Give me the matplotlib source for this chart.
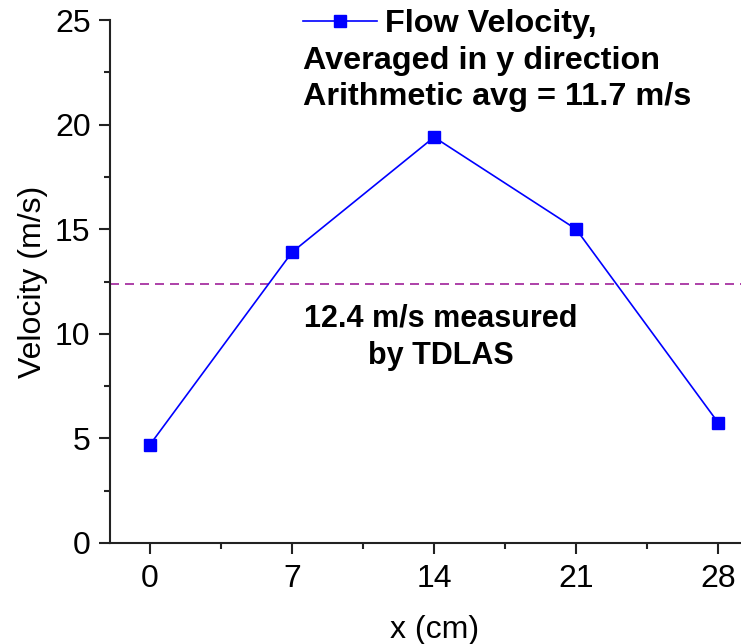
import matplotlib
matplotlib.use("Agg")
import matplotlib.pyplot as plt
from matplotlib.ticker import MultipleLocator

# values
x_cm = [0, 7, 14, 21, 28]
velocity = [4.7, 13.9, 19.4, 15.0, 5.75]
tdlas_velocity = 12.4
x_ticks = [0, 7, 14, 21, 28]
y_ticks = [0, 5, 10, 15, 20, 25]

plt.rcParams["font.family"] = ["Liberation Sans", "DejaVu Sans"]

W, H = 741, 644
fig = plt.figure(figsize=(W / 100, H / 100), dpi=100)
# the original axes runs a little past the right edge of the picture
ax = fig.add_axes([110 / W, 1 - 543 / H, 650 / W, 523 / H])

ax.plot(x_cm, velocity, color="#0000ff", linewidth=1.2, marker="s",
        markersize=8.5, label="Flow Velocity,", clip_on=False, zorder=5)
ax.axhline(tdlas_velocity, color="#a0209a", linestyle=(0, (5.4, 3.6)), linewidth=1.2)

ax.set_xlim(-1.97, 30.06)
ax.set_ylim(0, 25)
ax.set_xticks(x_ticks)
ax.set_yticks(y_ticks)
ax.xaxis.set_minor_locator(MultipleLocator(3.5))
ax.yaxis.set_minor_locator(MultipleLocator(2.5))
ax.tick_params(which="major", direction="out", length=8, width=1.5,
               labelsize=23, colors="#222222", labelcolor="black")
ax.tick_params(axis="x", which="major", pad=7)
ax.tick_params(axis="y", which="major", pad=6)
ax.tick_params(which="minor", direction="out", length=4, width=1.5, colors="#222222")
for side in ("top", "right"):
    ax.spines[side].set_visible(False)
for side in ("left", "bottom"):
    ax.spines[side].set_linewidth(1.5)
    ax.spines[side].set_color("#222222")

ax.set_xlabel("x (cm)", fontsize=23, labelpad=15)
ax.set_ylabel("Velocity (m/s)", fontsize=23, labelpad=5)

leg = ax.legend(loc="upper left", bbox_to_anchor=(303 / W, 1 - 9 / H),
                bbox_transform=fig.transFigure, frameon=False, borderaxespad=0,
                borderpad=0, handlelength=2.28, handletextpad=0.25,
                prop={"weight": "bold", "size": 23.3})

fig.text(303 / W, 1 - 69 / H, "Averaged in y direction", fontsize=23.3,
         fontweight="bold", ha="left", va="baseline")
fig.text(303 / W, 1 - 105 / H, "Arithmetic avg = 11.7 m/s", fontsize=23.3,
         fontweight="bold", ha="left", va="baseline")

ax.text(14.34, 9.85, "12.4 m/s measured\nby TDLAS", fontsize=22, fontweight="bold",
        ha="center", va="center", multialignment="center", linespacing=1.32)

fig.savefig("out.png", dpi=100)
